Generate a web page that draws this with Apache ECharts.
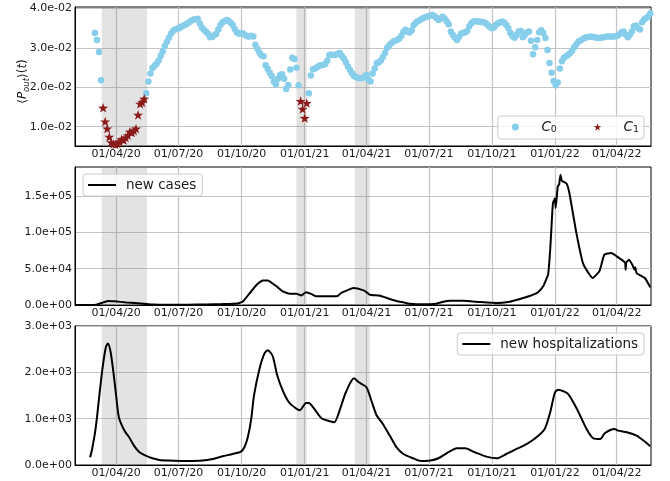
<!DOCTYPE html>
<html>
<head>
<meta charset="utf-8">
<script src="https://cdn.jsdelivr.net/npm/echarts@6/dist/echarts.min.js"></script>
<style>
  html, body { margin: 0; padding: 0; background: #ffffff; }
  #chart { width: 670px; height: 481px; }
</style>
</head>
<body>
<div id="chart"></div>
<script>
// ---- axis ticks -------------------------------------------------------
const xStart = '2020-02-01';
const xEnd = '2022-05-21';
const xTickDates = ['2020-04-01', '2020-07-01', '2020-10-01', '2021-01-01', '2021-04-01',
                    '2021-07-01', '2021-10-01', '2022-01-01', '2022-04-01'];
const xTickLabels = ['01/04/20', '01/07/20', '01/10/20', '01/01/21', '01/04/21',
                     '01/07/21', '01/10/21', '01/01/22', '01/04/22'];
const yTicksPout = [0.01, 0.02, 0.03, 0.04];
const yTicksCases = [0, 50000, 100000, 150000];
const yTicksHosp = [0, 1000, 2000, 3000];

// ---- shaded periods and cluster C1 periods -----------------------------
const shadedPeriods = [['2020-03-11', '2020-05-16'], ['2020-12-20', '2021-01-04'], ['2021-03-15', '2021-04-06']];
const c1Periods = [['2020-03-11', '2020-05-13'], ['2020-12-24', '2021-01-05']];

// ---- <P_out>(t), sampled every 3 days from poutStart -------------------
const poutStart = '2020-03-01';
const poutStepDays = 3;
const pout = [
  0.0338, 0.032, 0.029, 0.0218, 0.0148, 0.0113, 0.0095, 0.0074, 0.006, 0.0056,
  0.0055, 0.0057, 0.0062, 0.0068, 0.0066, 0.0072, 0.0078, 0.0087, 0.0085, 0.009,
  0.0095, 0.013, 0.0158, 0.0162, 0.0171, 0.0185, 0.0215, 0.0235, 0.0249, 0.0255,
  0.026, 0.0268, 0.028, 0.0291, 0.0305, 0.0316, 0.0326, 0.0336, 0.0343, 0.0347,
  0.0349, 0.035, 0.0354, 0.0357, 0.0359, 0.0362, 0.0366, 0.037, 0.0372, 0.0373,
  0.0374, 0.0362, 0.0352, 0.0346, 0.0341, 0.0336, 0.0327, 0.0328, 0.0332, 0.0336,
  0.0347, 0.0358, 0.0365, 0.0368, 0.0371, 0.0369, 0.0364, 0.0358, 0.0348, 0.034,
  0.0336, 0.0338, 0.0337, 0.0333, 0.033, 0.0329, 0.0331, 0.0329, 0.0308, 0.0298,
  0.0288, 0.0281, 0.0279, 0.0256, 0.0247, 0.0237, 0.0228, 0.0214, 0.0207, 0.0222,
  0.0231, 0.0233, 0.0222, 0.0196, 0.0206, 0.0245, 0.0275, 0.0272, 0.025, 0.0205,
  0.0165, 0.0145, 0.0122, 0.016, 0.0185, 0.023, 0.0246, 0.0248, 0.0251, 0.0255,
  0.0256, 0.0257, 0.026, 0.0268, 0.0282, 0.0283, 0.0282, 0.0283, 0.0285, 0.0287,
  0.028, 0.0273, 0.0264, 0.0253, 0.0244, 0.0236, 0.0229, 0.0226, 0.0224, 0.0223,
  0.0224, 0.0226, 0.0232, 0.022, 0.0215, 0.0235, 0.0248, 0.0261, 0.0264, 0.0268,
  0.0277, 0.0287, 0.03, 0.0306, 0.0311, 0.0316, 0.0318, 0.0321, 0.0324, 0.0331,
  0.0341, 0.0346, 0.0342, 0.0339, 0.0345, 0.0358, 0.0364, 0.0368, 0.0371, 0.0374,
  0.0377, 0.0379, 0.038, 0.0382, 0.0384, 0.0381, 0.0376, 0.0371, 0.0375, 0.0379,
  0.0375, 0.0368, 0.036, 0.0342, 0.0333, 0.0326, 0.032, 0.0328, 0.0336, 0.0338,
  0.034, 0.0343, 0.0355, 0.0363, 0.0367, 0.0368, 0.0367, 0.0367, 0.0366, 0.0365,
  0.0363, 0.0358, 0.0353, 0.035, 0.0352, 0.0359, 0.0363, 0.0365, 0.0367, 0.0364,
  0.0358, 0.035, 0.0338, 0.033, 0.0326, 0.0333, 0.0342, 0.0343, 0.0327, 0.0333,
  0.0339, 0.0342, 0.0318, 0.0284, 0.0302, 0.032, 0.034, 0.0345, 0.0338, 0.0325,
  0.0295, 0.0262, 0.0237, 0.0216, 0.0205, 0.0212, 0.0248, 0.0266, 0.0275, 0.0279,
  0.0282, 0.0287, 0.0293, 0.0302, 0.0309, 0.0316, 0.0319, 0.0322, 0.0325, 0.0327,
  0.0328, 0.0329, 0.0328, 0.0327, 0.0326, 0.0325, 0.0326, 0.0327, 0.0328, 0.0329,
  0.0329, 0.0329, 0.0329, 0.033, 0.0331, 0.0335, 0.034, 0.0342, 0.0334, 0.0327,
  0.0333, 0.0342, 0.0355, 0.0357, 0.035, 0.0347, 0.0365, 0.0372, 0.0376, 0.038,
  0.0388
];

// ---- daily new cases ----------------------------------------------------
const newCases = [
  ['2020-02-01', 0], ['2020-02-25', 100], ['2020-03-03', 500], ['2020-03-10', 2500],
  ['2020-03-20', 5600], ['2020-03-30', 5000], ['2020-04-16', 3600], ['2020-05-11', 1800],
  ['2020-05-25', 700], ['2020-06-15', 400], ['2020-07-15', 400], ['2020-08-10', 700],
  ['2020-09-01', 1200], ['2020-09-25', 2000], ['2020-10-03', 5000], ['2020-10-13', 16500],
  ['2020-10-23', 28000], ['2020-11-01', 33900], ['2020-11-08', 33900], ['2020-11-21', 25600],
  ['2020-11-30', 18700], ['2020-12-10', 15600], ['2020-12-20', 15600], ['2020-12-27', 13200],
  ['2021-01-03', 17400], ['2021-01-11', 14900], ['2021-01-18', 11900], ['2021-02-06', 11900],
  ['2021-02-18', 12400], ['2021-02-23', 16500], ['2021-02-28', 18700], ['2021-03-13', 23400],
  ['2021-03-28', 20100], ['2021-04-02', 17000], ['2021-04-06', 14200], ['2021-04-21', 12800],
  ['2021-05-05', 8300], ['2021-05-15', 5500], ['2021-05-25', 3600], ['2021-06-03', 1800],
  ['2021-06-23', 900], ['2021-07-12', 1800], ['2021-07-22', 4500], ['2021-08-01', 5800],
  ['2021-08-20', 5800], ['2021-09-13', 4100], ['2021-10-08', 2700], ['2021-10-27', 4600],
  ['2021-11-11', 8300], ['2021-11-25', 12400], ['2021-12-07', 17400], ['2021-12-15', 26100],
  ['2021-12-20', 37200], ['2021-12-22', 41700], ['2021-12-25', 76000], ['2021-12-27', 110000],
  ['2021-12-29', 140000], ['2022-01-01', 147000], ['2022-01-02', 133600], ['2022-01-05', 163000],
  ['2022-01-07', 166000], ['2022-01-09', 179500], ['2022-01-11', 171000], ['2022-01-18', 167000],
  ['2022-01-22', 154000], ['2022-02-01', 100000], ['2022-02-11', 57000], ['2022-02-25', 37200],
  ['2022-03-07', 47000], ['2022-03-14', 69300], ['2022-03-24', 71600], ['2022-04-01', 67000],
  ['2022-04-13', 58500], ['2022-04-14', 48600], ['2022-04-15', 58500], ['2022-04-19', 62400],
  ['2022-04-24', 55000], ['2022-04-27', 48600], ['2022-04-28', 52000], ['2022-04-30', 44000],
  ['2022-05-12', 37200], ['2022-05-20', 24300]
];

// ---- daily new hospitalizations -----------------------------------------
const newHospitalizations = [
  ['2020-02-23', 166], ['2020-02-26', 346], ['2020-03-02', 778], ['2020-03-07', 1426],
  ['2020-03-12', 2074], ['2020-03-17', 2542], ['2020-03-20', 2620], ['2020-03-24', 2434],
  ['2020-03-28', 2002], ['2020-04-01', 1499], ['2020-04-05', 1030], ['2020-04-13', 743],
  ['2020-04-20', 598], ['2020-04-27', 419], ['2020-05-05', 274], ['2020-05-14', 203],
  ['2020-05-24', 145], ['2020-06-03', 108], ['2020-06-17', 95], ['2020-07-12', 86],
  ['2020-08-05', 95], ['2020-08-20', 130], ['2020-09-03', 188], ['2020-09-18', 238],
  ['2020-09-30', 289], ['2020-10-05', 382], ['2020-10-10', 598], ['2020-10-15', 994],
  ['2020-10-19', 1499], ['2020-10-27', 2074], ['2020-11-03', 2398], ['2020-11-08', 2475],
  ['2020-11-15', 2363], ['2020-11-22', 1931], ['2020-11-30', 1607], ['2020-12-09', 1354],
  ['2020-12-19', 1225], ['2020-12-25', 1182], ['2021-01-03', 1339], ['2021-01-07', 1339],
  ['2021-01-15', 1210], ['2021-01-25', 1015], ['2021-02-03', 959], ['2021-02-13', 922],
  ['2021-02-20', 1138], ['2021-03-02', 1570], ['2021-03-14', 1870], ['2021-03-21', 1786],
  ['2021-04-01', 1678], ['2021-04-09', 1354], ['2021-04-16', 1067], ['2021-04-25', 886],
  ['2021-05-05', 635], ['2021-05-15', 382], ['2021-05-25', 238], ['2021-06-08', 145],
  ['2021-06-20', 86], ['2021-07-03', 95], ['2021-07-15', 145], ['2021-07-27', 253],
  ['2021-08-11', 361], ['2021-08-23', 361], ['2021-09-06', 274], ['2021-09-23', 181],
  ['2021-10-08', 145], ['2021-10-22', 238], ['2021-11-06', 346], ['2021-11-21', 454],
  ['2021-12-05', 598], ['2021-12-17', 778], ['2021-12-25', 1138], ['2022-01-01', 1570],
  ['2022-01-06', 1625], ['2022-01-13', 1592], ['2022-01-20', 1534], ['2022-02-02', 1210],
  ['2022-02-16', 778], ['2022-02-26', 577], ['2022-03-08', 562], ['2022-03-15', 691],
  ['2022-03-29', 778], ['2022-04-03', 742], ['2022-04-16', 706], ['2022-04-30', 635],
  ['2022-05-10', 527], ['2022-05-20', 404]
];

// ---- helpers ------------------------------------------------------------
const DAY = 86400000;
function ts(s) {
  const p = s.split('-').map(Number);
  return Date.UTC(p[0], p[1] - 1, p[2]);
}
function sci(v) {
  if (v === 0) return '0.0e+00';
  const parts = v.toExponential(1).split('e');
  const e = parseInt(parts[1], 10);
  const a = Math.abs(e);
  return parts[0] + 'e' + (e < 0 ? '-' : '+') + (a < 10 ? '0' + a : a);
}
const xTicks = xTickDates.map(ts);
function xLabel(v) {
  const i = xTicks.indexOf(v);
  return i >= 0 ? xTickLabels[i] : '';
}
const c1Ranges = c1Periods.map(p => [ts(p[0]), ts(p[1])]);
function inC1(t) {
  return c1Ranges.some(r => t >= r[0] && t <= r[1]);
}

const c0Data = [];
const c1Data = [];
pout.forEach((v, i) => {
  const t = ts(poutStart) + i * poutStepDays * DAY;
  (inC1(t) ? c1Data : c0Data).push([t, v]);
});
const casesData = newCases.map(d => [ts(d[0]), d[1]]);
const hospData = newHospitalizations.map(d => [ts(d[0]), d[1]]);

const shadeArea = {
  silent: true,
  itemStyle: { color: 'rgba(128,128,128,0.22)' },
  label: { show: false },
  data: shadedPeriods.map(p => [{ xAxis: ts(p[0]) }, { xAxis: ts(p[1]) }])
};

const FONT = 'DejaVu Sans';
const TEXT = '#1a1a1a';
const GRIDLINE = { show: true, lineStyle: { color: '#c4c4c4', width: 1.2 } };
const STAR = 'path://M0,-10 L2.35,-3.24 L9.51,-3.09 L3.8,1.24 L5.88,8.09 L0,4 L-5.88,8.09 L-3.8,1.24 L-9.51,-3.09 L-2.35,-3.24 Z';

const grids = [
  { left: 75, top: 7, width: 576, height: 139 },
  { left: 75, top: 167, width: 576, height: 138 },
  { left: 75, top: 326, width: 576, height: 139 }
].map(g => Object.assign(g, {
  show: true, borderColor: '#000', borderWidth: 1, backgroundColor: 'transparent',
  containLabel: false, outerBoundsMode: 'none'
}));

const xAxes = [0, 1, 2].map(i => ({
  type: 'value',
  gridIndex: i,
  min: ts(xStart),
  max: ts(xEnd),
  axisLine: { show: true, lineStyle: { color: '#000', width: 1 } },
  axisTick: { show: false, customValues: xTicks },
  axisLabel: { customValues: xTicks, formatter: xLabel, fontSize: 11, color: TEXT, margin: 3, fontFamily: FONT },
  splitLine: GRIDLINE
}));

function yAxis(i, min, max, ticks, extra) {
  return Object.assign({
    type: 'value',
    gridIndex: i,
    min: min,
    max: max,
    axisLine: { show: true, lineStyle: { color: '#000', width: 1 } },
    axisTick: { show: false, customValues: ticks },
    axisLabel: { customValues: ticks, formatter: sci, fontSize: 11, color: TEXT, margin: 3, fontFamily: FONT },
    splitLine: GRIDLINE
  }, extra || {});
}

const yAxes = [
  yAxis(0, 0.0051, 0.0404, yTicksPout, {
    name: '{a|\u27E8}{i|P}{s|out}{a|\u27E9(}{i|t}{a|)}{g|}',
    nameLocation: 'middle',
    nameRotate: 90,
    nameGap: 44,
    nameMoveOverlap: false,
    nameTextStyle: {
      color: TEXT,
      fontFamily: FONT,
      rich: {
        a: { fontSize: 12, fontFamily: FONT, color: TEXT, lineHeight: 17 },
        i: { fontSize: 12, fontFamily: FONT, fontStyle: 'italic', color: TEXT, lineHeight: 17 },
        s: { fontSize: 8.5, fontFamily: FONT, fontStyle: 'italic', color: TEXT, lineHeight: 10, verticalAlign: 'bottom' },
        g: { width: 10, lineHeight: 17 }
      }
    }
  }),
  yAxis(1, 0, 190000, yTicksCases),
  yAxis(2, 0, 3000, yTicksHosp)
];

const legendBox = {
  orient: 'horizontal',
  borderColor: '#cccccc',
  borderWidth: 1,
  borderRadius: 3,
  backgroundColor: 'rgba(255,255,255,0.85)',
  selectedMode: false,
  itemWidth: 28
};
const lineLegendText = {
  rich: { t: { fontSize: 13.5, fontFamily: FONT, color: TEXT, padding: [0, 0, 0, 5], lineHeight: 16 } }
};

const legends = [
  Object.assign({}, legendBox, {
    data: ['C0', 'C1'],
    right: 26,
    top: 116,
    itemHeight: 7,
    itemGap: 37,
    padding: [4, 5, 4, 14],
    formatter: n => n === 'C0' ? '{c|C}{s|0}' : '{c|C}{s|1}',
    textStyle: {
      fontFamily: FONT,
      rich: {
        c: { fontSize: 13.5, fontStyle: 'italic', fontFamily: FONT, color: TEXT, padding: [0, 0, 0, 7], lineHeight: 16 },
        s: { fontSize: 9.5, fontFamily: FONT, color: TEXT, lineHeight: 10, verticalAlign: 'bottom' }
      }
    }
  }),
  Object.assign({}, legendBox, {
    data: [{ name: 'new cases', icon: 'rect' }],
    left: 83,
    top: 174,
    itemHeight: 2,
    padding: [4, 6, 4, 5],
    formatter: n => '{t|' + n + '}',
    textStyle: lineLegendText
  }),
  Object.assign({}, legendBox, {
    data: [{ name: 'new hospitalizations', icon: 'rect' }],
    right: 26,
    top: 333,
    itemHeight: 2,
    padding: [4, 6, 4, 5],
    formatter: n => '{t|' + n + '}',
    textStyle: lineLegendText
  })
];

const chart = echarts.init(document.getElementById('chart'), null, { renderer: 'canvas' });
chart.setOption({
  animation: false,
  backgroundColor: '#ffffff',
  textStyle: { fontFamily: FONT },
  grid: grids,
  xAxis: xAxes,
  yAxis: yAxes,
  legend: legends,
  series: [
    {
      name: 'C0', type: 'scatter', xAxisIndex: 0, yAxisIndex: 0,
      data: c0Data, symbol: 'circle', symbolSize: 6.5,
      itemStyle: { color: '#87ceeb', opacity: 1 },
      emphasis: { disabled: true },
      markArea: shadeArea
    },
    {
      name: 'C1', type: 'scatter', xAxisIndex: 0, yAxisIndex: 0,
      data: c1Data, symbol: STAR, symbolSize: 10, symbolKeepAspect: true,
      itemStyle: { color: '#8b1a1a', opacity: 1 },
      emphasis: { disabled: true }
    },
    {
      name: 'new cases', type: 'line', xAxisIndex: 1, yAxisIndex: 1,
      data: casesData, symbol: 'none', showSymbol: false, smooth: 0.15,
      lineStyle: { color: '#000', width: 2 }, itemStyle: { color: '#000' },
      emphasis: { disabled: true },
      markArea: shadeArea
    },
    {
      name: 'new hospitalizations', type: 'line', xAxisIndex: 2, yAxisIndex: 2,
      data: hospData, symbol: 'none', showSymbol: false, smooth: 0.25,
      lineStyle: { color: '#000', width: 2 }, itemStyle: { color: '#000' },
      emphasis: { disabled: true },
      markArea: shadeArea
    }
  ]
});
</script>
</body>
</html>
